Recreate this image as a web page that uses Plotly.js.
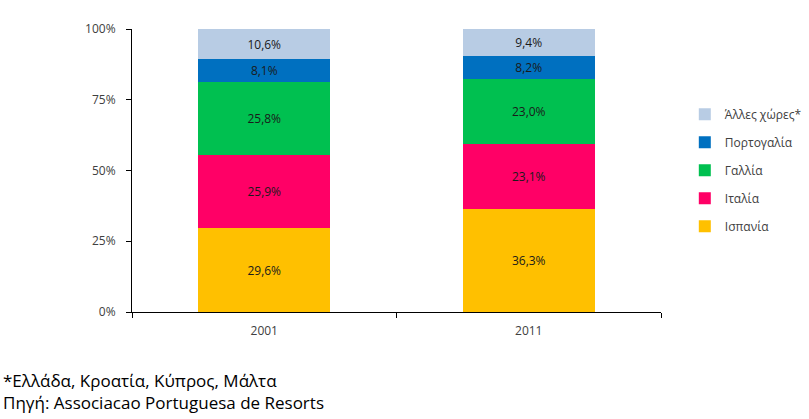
<!DOCTYPE html>
<html>
<head>
<meta charset="utf-8">
<script src="https://cdn.plot.ly/plotly-3.0.1.min.js"></script>
<style>body{margin:0;background:#fff}#chart{width:809px;height:419px}</style>
</head>
<body>
<div id="chart"></div>
<script>
const years = ["2001", "2011"];
const ispania = [29.6, 36.3];
const italia = [25.9, 23.1];
const gallia = [25.8, 23.0];
const portogalia = [8.1, 8.2];
const alles = [10.6, 9.4];
const yTicks = [0, 25, 50, 75, 100];
const yTickText = ["0%", "25%", "50%", "75%", "100%"];

const series = [
  {name: "Ισπανία", y: ispania, color: "#FFC000"},
  {name: "Ιταλία", y: italia, color: "#FF0066"},
  {name: "Γαλλία", y: gallia, color: "#00C050"},
  {name: "Πορτογαλία", y: portogalia, color: "#0070C0"},
  {name: "Άλλες χώρες*", y: alles, color: "#B8CCE4"}
];

const font = "Open Sans, Noto Sans, DejaVu Sans, sans-serif";

const data = series.map((s, i) => ({
  type: "bar",
  x: years,
  y: s.y,
  name: s.name,
  legendgroup: "g" + i,
  legendrank: series.length - i,
  marker: {color: s.color, line: {width: 0}},
  texttemplate: "%{y:.1f}%",
  textposition: "inside",
  insidetextanchor: "middle",
  textangle: 0,
  textfont: {family: font, size: 12, color: "#1a1a1a"},
  hoverinfo: "none"
}));

const layout = {
  width: 809,
  height: 419,
  margin: {l: 132, r: 148, t: 29, b: 107, autoexpand: false},
  barmode: "stack",
  bargap: 0.5,
  separators: ",.",
  paper_bgcolor: "#ffffff",
  plot_bgcolor: "#ffffff",
  font: {family: font, size: 12, color: "#595959"},
  xaxis: {
    type: "category",
    showline: true,
    linecolor: "#000000",
    linewidth: 1,
    ticks: "outside",
    tickson: "boundaries",
    ticklen: 5,
    tickcolor: "#000000",
    ticklabelstandoff: 8,
    tickfont: {family: font, size: 12, color: "#404040"},
    showgrid: false,
    zeroline: false,
    fixedrange: true
  },
  yaxis: {
    range: [0, 100],
    tickmode: "array",
    tickvals: yTicks,
    ticktext: yTickText,
    showline: true,
    linecolor: "#000000",
    linewidth: 1,
    ticks: "outside",
    ticklen: 5,
    tickcolor: "#000000",
    ticklabelstandoff: 8,
    tickfont: {family: font, size: 12, color: "#404040"},
    showgrid: false,
    zeroline: false,
    fixedrange: true
  },
  legend: {
    x: 1.045,
    y: 0.75,
    xanchor: "left",
    yanchor: "top",
    traceorder: "grouped",
    tracegroupgap: 9,
    itemwidth: 30,
    font: {family: font, size: 12, color: "#404040"},
    bgcolor: "rgba(0,0,0,0)"
  },
  annotations: [{
    xref: "paper",
    yref: "paper",
    x: -0.248,
    y: -0.193,
    xanchor: "left",
    yanchor: "top",
    align: "left",
    showarrow: false,
    text: "*Ελλάδα, Κροατία, Κύπρος, Μάλτα<br>Πηγή: Associacao Portuguesa de Resorts",
    font: {family: font, size: 17, color: "#000000"}
  }]
};

Plotly.newPlot("chart", data, layout, {staticPlot: true, displayModeBar: false});
</script>
</body>
</html>
